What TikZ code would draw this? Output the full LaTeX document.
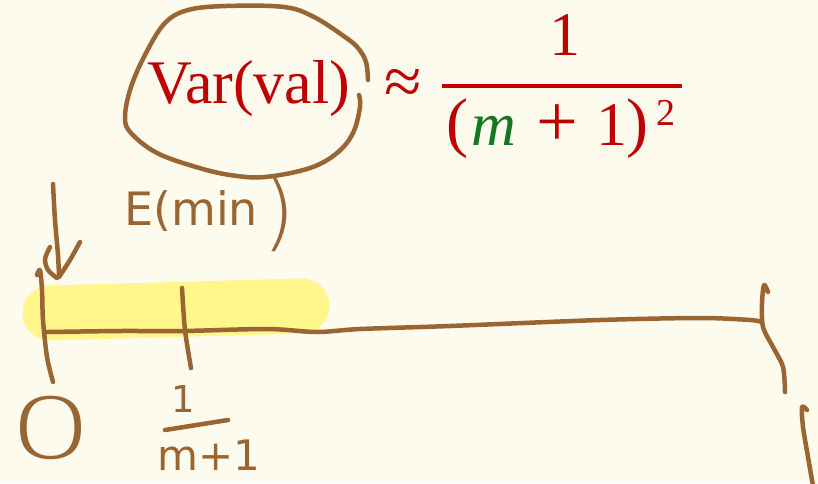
\documentclass[tikz,border=0pt]{standalone}
\usepackage{fontspec}
\setmainfont{Liberation Serif}
\newfontfamily\handfont{DejaVu Sans}
\IfFontExistsTF{DejaVu Sans ExtraLight}{\newfontfamily\thinfont{DejaVu Sans ExtraLight}}{%
 \IfFontExistsTF{Lato Light}{\newfontfamily\thinfont{Lato Light}}{%
  \IfFontExistsTF{Poppins Light}{\newfontfamily\thinfont{Poppins Light}}{%
   \IfFontExistsTF{Fira Sans Light}{\newfontfamily\thinfont{Fira Sans Light}}{%
    \newfontfamily\thinfont{DejaVu Sans}}}}}
\definecolor{bgcream}{RGB}{253,250,238}
\definecolor{inkbrown}{RGB}{153,102,51}
\definecolor{eqred}{RGB}{192,0,0}
\definecolor{eqgreen}{RGB}{20,120,30}
\definecolor{hlyellow}{RGB}{255,247,140}
\begin{document}
\begin{tikzpicture}[x=1pt,y=-1pt,
  ink/.style={draw=inkbrown,line width=4.5pt,line cap=round,line join=round},
  formula/.style={inner sep=0pt,text=eqred,font=\fontsize{62}{62}\selectfont,anchor=base},
  hand/.style={inner sep=0pt,text=inkbrown,anchor=base}]
\fill[bgcream] (0,0) rectangle (818,483);
\useasboundingbox (0,0) rectangle (818,483);
% highlight
\draw[hlyellow,line width=55pt,line cap=round] (50,313) -- (302,306);
% formula
\node[formula,anchor=base west] (var) at (147,103) {Var(val)};
\node[formula,font=\fontsize{68}{68}\selectfont] (approx) at (403,104) {≈};
\node[formula] (num) at (565,55) {1};
\coordinate (barL) at (442,86);
\coordinate (barR) at (682,86);
\draw[eqred,line width=4.5pt] (barL) -- (barR);
\node[formula,font=\fontsize{66}{66}\selectfont] (lp) at (457,144) {(};
\node[formula,text=eqgreen] (mm) at (494,145) {\itshape m};
\node[formula,font=\fontsize{74}{74}\selectfont] (plus) at (557,146) {+};
\node[formula] (one) at (612,145) {1};
\node[formula,font=\fontsize{66}{66}\selectfont] (rp) at (637,144) {)};
\node[formula,font=\fontsize{38}{38}\selectfont] (sq) at (666,125) {2};
% ellipse around Var(val)
\draw[ink] plot[smooth,tension=0.6] coordinates {(368,80) (366,62) (358,48) (345,37) (314,17) (284,7) (226,6) (188,10) (165,23) (146,53) (131,87) (125,117) (131,133) (157,153) (196,167) (230,175) (265,177) (310,168) (337,153) (353,133) (360,107) (359,95)};
% handwritten labels
\node[hand,anchor=base west,font=\handfont\fontsize{46}{46}\selectfont] (emin) at (124,225) {E(min};
\node[hand,font=\thinfont\fontsize{85}{85}\selectfont] (emparen) at (279,240) {)};
\node[hand,font=\thinfont\fontsize{84}{84}\selectfont] (zero) at (51,458) {\scalebox{1.6}[1]{0}};
\node[hand,font=\handfont\fontsize{37}{37}\selectfont] (hnum) at (183,412) {1};
\coordinate (hbarL) at (165,430);
\coordinate (hbarR) at (228,420);
\draw[ink] (hbarL) -- (hbarR);
\node[hand,anchor=base west,font=\handfont\fontsize{42}{42}\selectfont] (hden) at (157,470) {m+1};
% arrow
\draw[ink] plot[smooth] coordinates {(53,184) (55,220) (58,255) (59,276)};
\draw[ink] plot[smooth] coordinates {(50,247) (45,259) (48,270) (57,278)};
\draw[ink] plot[smooth] coordinates {(59,277) (70,260) (80,242)};
% number line
\draw[ink] plot[smooth,tension=0.5] coordinates {(47,332) (120,331) (183,331) (267,329) (317,332) (360,329) (450,326) (600,320) (700,318) (750,320) (762,322)};
% ticks
\draw[ink] plot[smooth] coordinates {(37,275) (40,270) (42,290) (43,320) (47,357) (53,382)};
\draw[ink] plot[smooth] coordinates {(182,288) (185,330) (191,368)};
% right end strokes
\draw[ink] plot[smooth] coordinates {(768,292) (764,285) (762,303) (763,327) (773,347) (783,367) (785,392)};
\draw[ink] plot[smooth] coordinates {(807,410) (802,407) (803,427) (808,457) (813,486)};
\end{tikzpicture}
\end{document}
